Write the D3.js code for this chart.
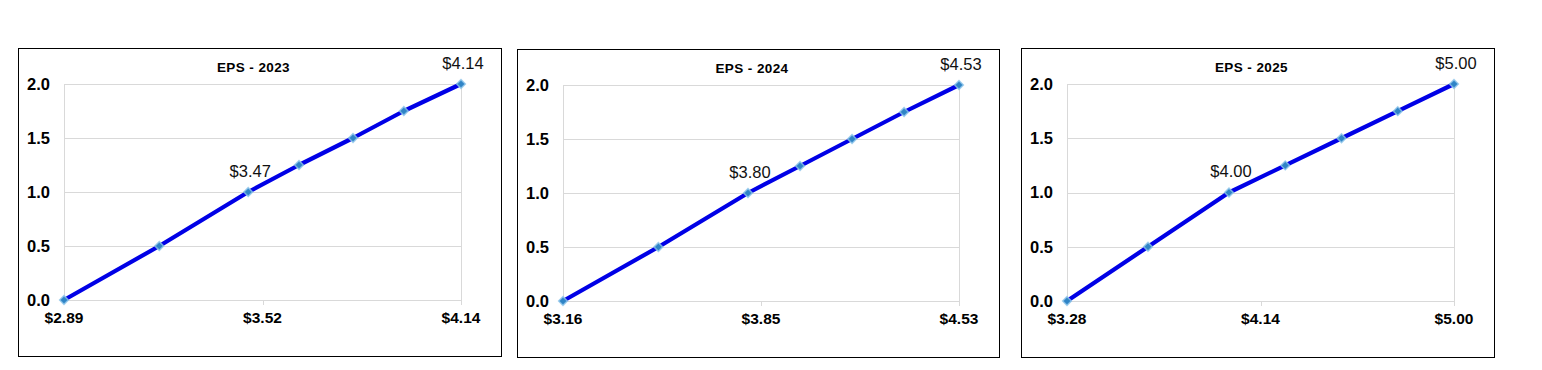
<!DOCTYPE html>
<html>
<head>
<meta charset="utf-8">
<script src="https://cdn.jsdelivr.net/npm/d3@7"></script>
<style>
  body { margin: 0; background: #fff; }
  svg { display: block; font-family: Arial, "Liberation Sans", sans-serif; }
</style>
</head>
<body>
<svg id="chart" width="1542" height="370"></svg>
<script>
// data
const years = ["2023", "2024", "2025"];
const yLevels = [0, 0.5, 1, 1.25, 1.5, 1.75, 2];
const eps2023 = [2.89, 3.19, 3.47, 3.63, 3.80, 3.96, 4.14];
const eps2024 = [3.16, 3.49, 3.80, 3.98, 4.16, 4.34, 4.53];
const eps2025 = [3.28, 3.64, 4.00, 4.25, 4.50, 4.75, 5.00];
const xTicks2023 = [2.89, 3.515, 4.14];
const xTicks2024 = [3.16, 3.845, 4.53];
const xTicks2025 = [3.28, 4.14, 5.00];
const yTicks = [0, 0.5, 1, 1.5, 2];
const labelledIdx = [2, 6];

const epsSeries = [eps2023, eps2024, eps2025];
const xTickSets = [xTicks2023, xTicks2024, xTicks2025];

// layout of each panel (box + plot area)
const panels = [
  { box: [18, 48, 483, 308], plot: [64, 461, 84, 300] },
  { box: [517, 49, 482, 308], plot: [563, 959, 85, 301] },
  { box: [1021, 48, 473, 309], plot: [1067, 1454, 84, 301] }
];

const svg = d3.select("#chart");
const fmt = d => "$" + d.toFixed(2);

panels.forEach((p, i) => {
  const eps = epsSeries[i];
  const [bx, by, bw, bh] = p.box;
  const [left, right, top, bottom] = p.plot;
  const g = svg.append("g").attr("class", "panel");

  g.append("rect")
    .attr("x", bx + 0.5).attr("y", by + 0.5)
    .attr("width", bw).attr("height", bh)
    .attr("fill", "#fff").attr("stroke", "#000").attr("stroke-width", 1);

  const x = d3.scaleLinear().domain(d3.extent(eps)).range([left, right]);
  const y = d3.scaleLinear().domain([0, 2]).range([bottom, top]);

  // horizontal gridlines
  g.selectAll(".hgrid").data(yTicks).join("line")
    .attr("class", "hgrid")
    .attr("x1", left).attr("x2", right)
    .attr("y1", d => Math.round(y(d)) + 0.5).attr("y2", d => Math.round(y(d)) + 0.5)
    .attr("stroke", "#d9d9d9");

  // vertical edges of plot
  g.append("line")
    .attr("x1", Math.round(left) + 0.5).attr("x2", Math.round(left) + 0.5)
    .attr("y1", top).attr("y2", bottom)
    .attr("stroke", "#d9d9d9");
  g.append("line")
    .attr("x1", Math.round(right) + 0.5).attr("x2", Math.round(right) + 0.5)
    .attr("y1", top).attr("y2", bottom + 5)
    .attr("stroke", "#d9d9d9");

  // x axis
  const xTicks = xTickSets[i];
  g.selectAll(".xtick").data(xTicks.slice(1, 2)).join("line")
    .attr("class", "xtick")
    .attr("x1", d => Math.round(x(d)) + 0.5).attr("x2", d => Math.round(x(d)) + 0.5)
    .attr("y1", bottom).attr("y2", bottom + 5)
    .attr("stroke", "#d9d9d9");
  g.selectAll(".xlabel").data(xTicks).join("text")
    .attr("class", "xlabel")
    .attr("x", d => x(d)).attr("y", bottom + 23)
    .attr("text-anchor", "middle")
    .attr("font-size", 15.5).attr("font-weight", "bold")
    .text(fmt);

  // y axis labels
  g.selectAll(".ylabel").data(yTicks).join("text")
    .attr("class", "ylabel")
    .attr("x", left - 14).attr("y", d => y(d) + 5.8)
    .attr("text-anchor", "end")
    .attr("font-size", 16.5).attr("font-weight", "bold")
    .text(d => d.toFixed(1));

  // title
  g.append("text")
    .attr("x", bx + bw / 2 - 6).attr("y", top - 12)
    .attr("text-anchor", "middle")
    .attr("font-size", 13.5).attr("font-weight", "bold")
    .attr("letter-spacing", 0.4)
    .text("EPS - " + years[i]);

  const pts = eps.map((v, k) => ({ v, lvl: yLevels[k], k }));

  g.append("path")
    .datum(pts)
    .attr("fill", "none")
    .attr("stroke", "#0000e6")
    .attr("stroke-width", 4.2)
    .attr("stroke-linejoin", "round")
    .attr("d", d3.line().x(d => x(d.v)).y(d => y(d.lvl)));

  const sym = d3.symbol(d3.symbolSquare, 38);
  g.selectAll(".mk").data(pts).join("path")
    .attr("class", "mk")
    .attr("d", sym)
    .attr("transform", d => `translate(${x(d.v)},${y(d.lvl)}) rotate(45)`)
    .attr("fill", "#2f84c6")
    .attr("stroke", "#8cc4ea")
    .attr("stroke-width", 1.5)
    .attr("stroke-opacity", 0.8);

  g.selectAll(".dlabel").data(pts.filter(d => labelledIdx.includes(d.k))).join("text")
    .attr("class", "dlabel")
    .attr("x", d => x(d.v) + 2).attr("y", d => y(d.lvl) - 15.5)
    .attr("text-anchor", "middle")
    .attr("font-size", 16.5)
    .attr("fill", "#111")
    .text(d => fmt(d.v));
});
</script>
</body>
</html>
